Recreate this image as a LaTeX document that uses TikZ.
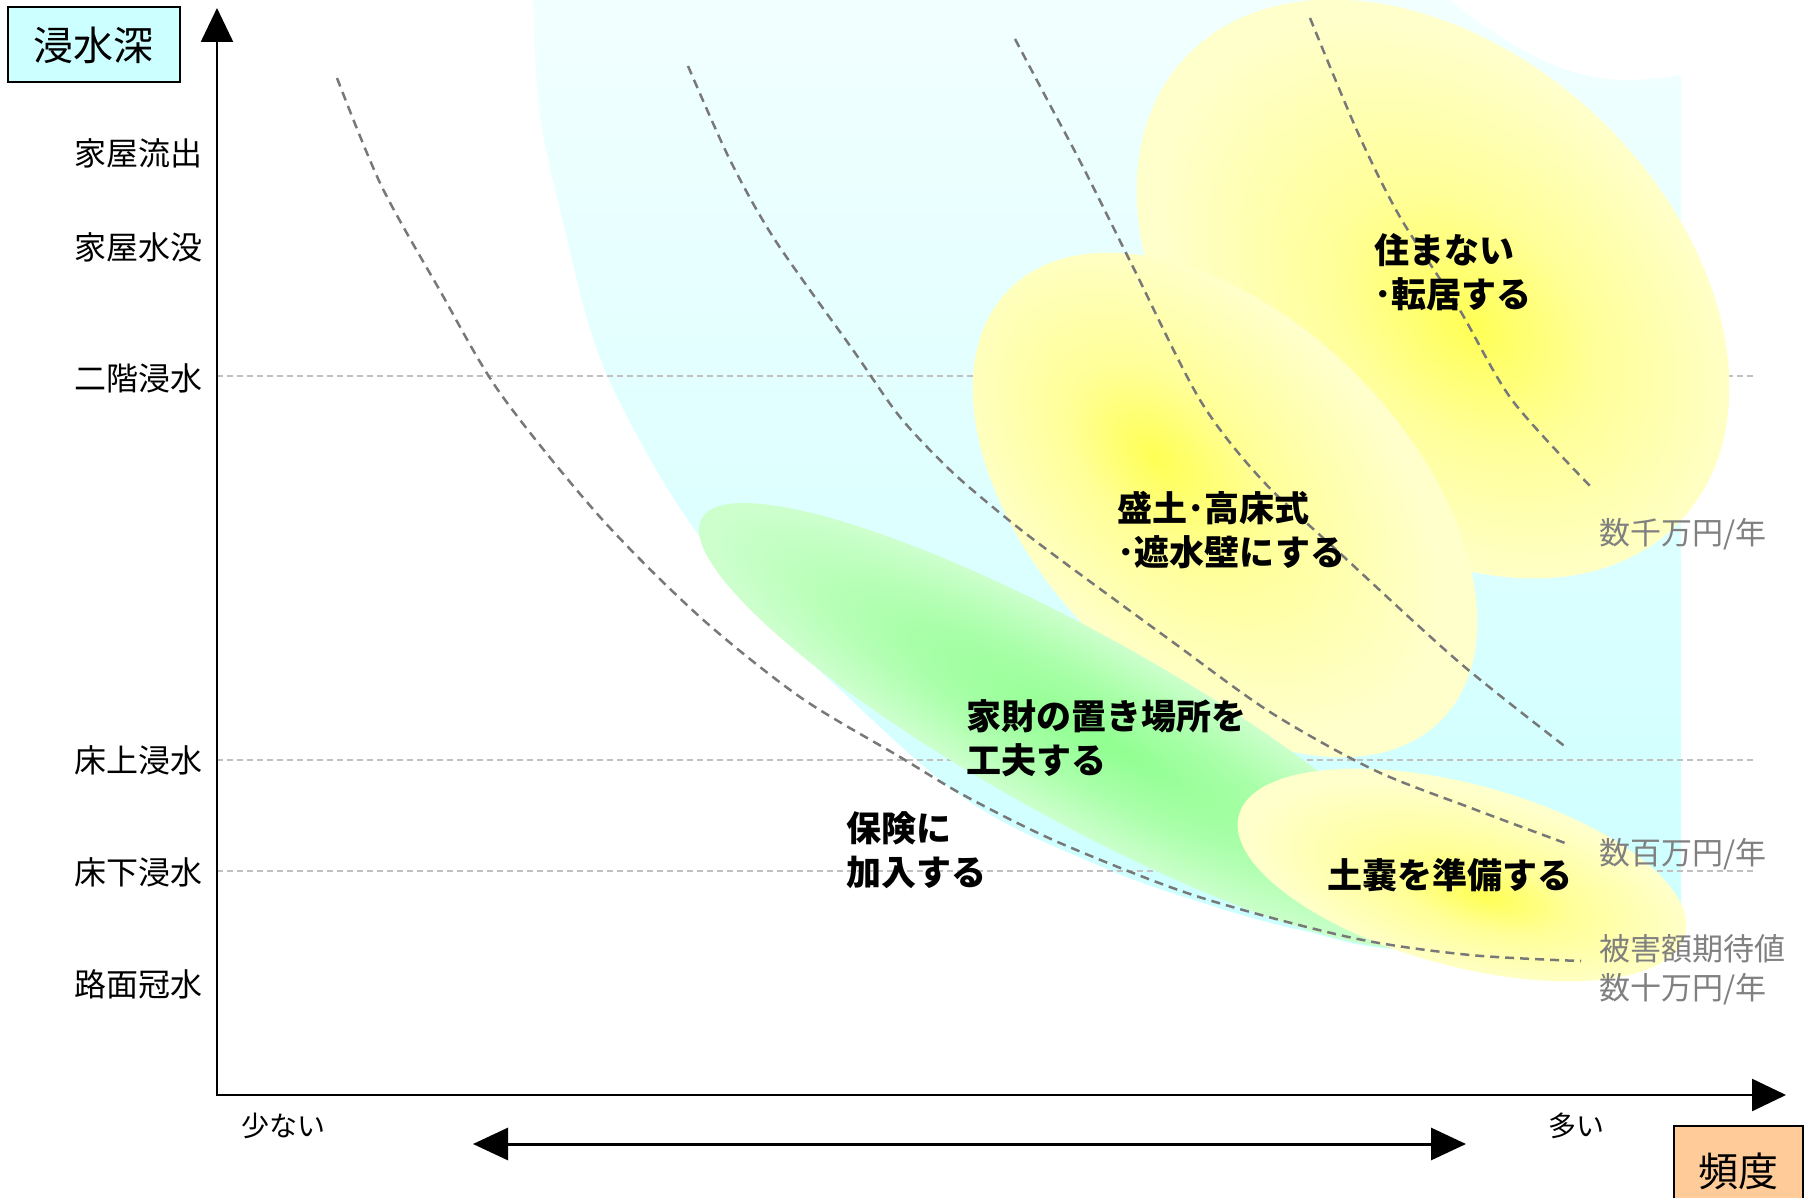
\documentclass[tikz,border=0pt]{standalone}
\usepackage{fontspec}
\newfontfamily\jp{Noto Sans CJK JP}
\usetikzlibrary{arrows.meta}
\definecolor{cyanTop}{HTML}{F2FFFF}
\definecolor{cyanBot}{HTML}{CCFFFF}
\definecolor{yelC}{HTML}{FFFF55}
\definecolor{yelM}{HTML}{FFFF99}
\definecolor{yelE}{HTML}{FFFFCC}
\definecolor{grnC}{HTML}{90FF90}
\definecolor{grnM}{HTML}{AAFFAA}
\definecolor{grnE}{HTML}{CCFFCC}
\definecolor{boxCyan}{HTML}{CCFFFF}
\definecolor{boxPeach}{HTML}{FFCC99}
\definecolor{curveGray}{HTML}{787878}
\definecolor{lineGray}{HTML}{C0C0C0}
\definecolor{labelGray}{HTML}{808080}
\pgfdeclareradialshading{glowOne}{\pgfpoint{4bp}{0bp}}{color(0bp)=(yelC); color(11bp)=(yelM); color(25bp)=(yelE); color(50bp)=(yelE)}
\pgfdeclareradialshading{glowTwo}{\pgfpoint{-7bp}{-2bp}}{color(0bp)=(yelC); color(10bp)=(yelM); color(25bp)=(yelE); color(50bp)=(yelE)}
\pgfdeclareradialshading{glowThree}{\pgfpoint{3bp}{-4bp}}{color(0bp)=(yelC); color(10bp)=(yelM); color(25bp)=(yelE); color(50bp)=(yelE)}
\pgfdeclareradialshading{glowGreen}{\pgfpoint{2bp}{0bp}}{color(0bp)=(grnC); color(13bp)=(grnM); color(25bp)=(grnE); color(50bp)=(grnE)}
\tikzset{
  ylabel/.style={anchor=east, inner sep=0pt, font={\jp\fontsize{32}{36}\selectfont}},
  act/.style={anchor=west, align=left, inner sep=0pt, font={\jp\bfseries\fontsize{35}{44}\selectfont}},
  cost/.style={anchor=west, align=left, inner sep=0pt, text=labelGray, font={\jp\fontsize{31}{39}\selectfont}},
  freq/.style={inner sep=0pt, font={\jp\fontsize{28}{32}\selectfont}},
  titlebox/.style={draw=black, line width=2pt, inner sep=0pt, font={\jp\fontsize{40}{44}\selectfont}},
  guide/.style={draw=lineGray, line width=1.5pt, dash pattern=on 6pt off 4pt},
  iso/.style={draw=curveGray, line width=2.5pt, dash pattern=on 9pt off 6pt},
  axisline/.style={draw=black, line width=2.5pt},
}
\begin{document}
\begin{tikzpicture}[x=1pt, y=-1pt]
\useasboundingbox (0,0) rectangle (1810,1198);
% cyan region
\shade[top color=cyanTop, bottom color=cyanBot]
  (1681,75) -- (1681,935) -- plot[smooth, tension=0.6] coordinates {(1681,935) (1420,950) (1300,930) (1200,902) (1100,866) (967,800) (833,683) (767,617) (700,537) (645,450) (597,350) (565,230) (540,115) (533,0)}
  -- (1450,0) .. controls (1500,40) and (1560,80) .. (1625,80) .. controls (1650,80) and (1670,77) .. (1681,75) -- cycle;
% guide lines
\coordinate (g1a) at (217,376); \coordinate (g1b) at (1755,376);
\coordinate (g2a) at (217,760); \coordinate (g2b) at (1755,760);
\coordinate (g3a) at (217,871); \coordinate (g3b) at (1755,871);
\draw[guide] (g1a) -- (g1b);
\draw[guide] (g2a) -- (g2b);
\draw[guide] (g3a) -- (g3b);
% ellipses
\begin{scope}[transform canvas={shift={(1433,289)}, rotate=-43}]
  \shade[shading=glowOne] (0,0) ellipse [x radius=339, y radius=238];
\end{scope}
\begin{scope}[transform canvas={shift={(1225,505)}, rotate=-45}]
  \shade[shading=glowTwo] (0,0) ellipse [x radius=305, y radius=185];
\end{scope}
\begin{scope}[transform canvas={shift={(1076,726)}, rotate=-29}]
  \shade[shading=glowGreen] (0,0) ellipse [x radius=428, y radius=93];
\end{scope}
\begin{scope}[transform canvas={shift={(1462,875)}, rotate=-15}]
  \shade[shading=glowThree] (0,0) ellipse [x radius=231, y radius=91];
\end{scope}
% iso-damage curves
\draw[iso] plot[smooth] coordinates {(337,78) (381,185) (439,289) (500,393) (600,517) (700,617) (800,697) (900,757) (967,797) (1060,843) (1196,896) (1353,938) (1470,955) (1581,961)};
\draw[iso] plot[smooth] coordinates {(688,66) (730,160) (775,240) (853,350) (900,417) (950,470) (1000,513) (1050,552) (1170,640) (1270,712) (1374,770) (1471,808) (1565,843)};
\draw[iso] plot[smooth] coordinates {(1015,39) (1050,105) (1083,167) (1133,267) (1200,400) (1262,480) (1344,557) (1460,663) (1567,748)};
\draw[iso] plot[smooth] coordinates {(1310,18) (1358,133) (1400,217) (1458,307) (1512,400) (1591,487)};
% axes
\coordinate (O) at (217,1095);
\coordinate (Ytip) at (217,8);
\coordinate (Xtip) at (1786,1095);
\draw[axisline, {Triangle[length=34pt,width=32pt]}-{Triangle[length=34pt,width=32pt]}] (Ytip) -- (O) -- (Xtip);
\coordinate (L) at (473,1144);
\coordinate (R) at (1466,1144);
\draw[line width=3pt, {Triangle[length=35pt,width=32pt]}-{Triangle[length=35pt,width=32pt]}] (L) -- (R);
% title boxes
\node[titlebox, fill=boxCyan, minimum width=172pt, minimum height=75pt] (depth) at (94,45) {浸水深};
\node[titlebox, fill=boxPeach, minimum width=129pt, minimum height=90pt] (freqbox) at (1738,1171) {頻度};
% y labels
\node[ylabel] (l1) at (203,153) {家屋流出};
\node[ylabel] (l2) at (203,247) {家屋水没};
\node[ylabel] (l3) at (203,378) {二階浸水};
\node[ylabel] (l4) at (203,760) {床上浸水};
\node[ylabel] (l5) at (203,872) {床下浸水};
\node[ylabel] (l6) at (203,984) {路面冠水};
% x labels
\node[freq] (few) at (283,1126) {少ない};
\node[freq] (many) at (1576,1126) {多い};
% measures
\node[act] (m1) at (1374,272) {住まない\\･転居する};
\node[act] (m2) at (1117,530) {盛土･高床式\\･遮水壁にする};
\node[act] (m3) at (966,738) {家財の置き場所を\\工夫する};
\node[act] (m4) at (846,850) {保険に\\加入する};
\node[act] (m5) at (1327,875) {土嚢を準備する};
% cost labels
\node[cost] (c1) at (1599,534) {数千万円/年};
\node[cost] (c2) at (1599,854) {数百万円/年};
\node[cost] (c3) at (1599,970) {被害額期待値\\数十万円/年};
\end{tikzpicture}
\end{document}
